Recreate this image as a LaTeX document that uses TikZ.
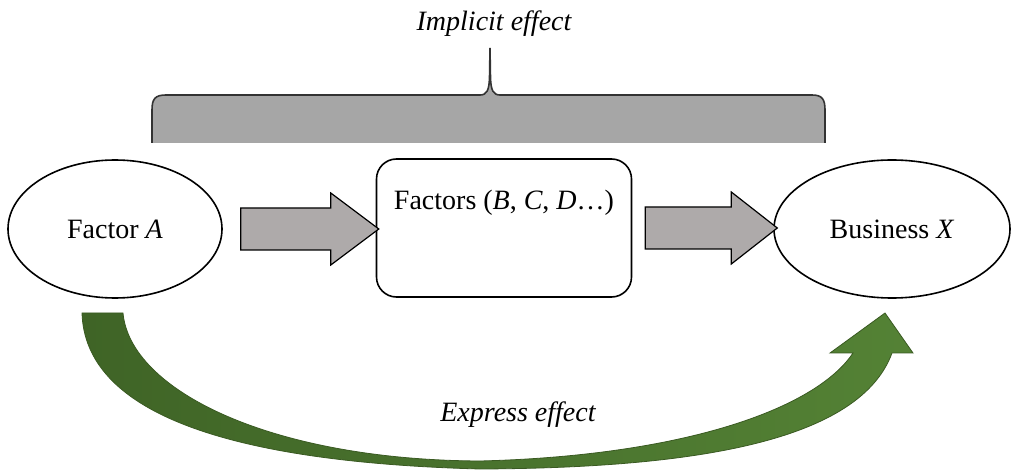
\documentclass[tikz,border=0pt]{standalone}
\usepackage{fontspec}
\setmainfont{Liberation Serif}
\usetikzlibrary{shapes.geometric,calc}
\definecolor{brgray}{HTML}{A6A6A6}
\definecolor{brline}{HTML}{333333}
\definecolor{arrgray}{HTML}{AEAAAA}
\definecolor{gdark}{HTML}{3F6426}
\definecolor{glight}{HTML}{548235}
\definecolor{gline}{HTML}{3A5A22}
\tikzset{
  lbl/.style={font=\fontsize{28}{33}\selectfont, inner sep=0pt},
  oval/.style={ellipse, draw=black, line width=1.6pt, minimum width=214pt, minimum height=138pt, inner sep=0pt, font=\fontsize{28}{33}\selectfont},
  rbox/.style={rectangle, rounded corners=20pt, draw=black, line width=1.6pt, minimum width=255pt, minimum height=138pt},
  blockarrow/.style={draw=black, line width=1.2pt, fill=arrgray, line join=miter},
}
\begin{document}
\begin{tikzpicture}[x=1pt,y=-1pt]
\useasboundingbox (0,0) rectangle (1015,470);
% brace
\fill[brgray] (152,143) -- (152,110) .. controls (152,99) and (155,95) .. (166,95)
  -- (480,95) .. controls (487,95) and (489,90) .. (489.5,78) -- (490,48) -- (490.5,78)
  .. controls (491,90) and (493,95) .. (500,95) -- (812,95)
  .. controls (822,95) and (825,99) .. (825,110) -- (825,143) -- cycle;
\draw[brline, line width=1.6pt] (152,143) -- (152,110) .. controls (152,99) and (155,95) .. (166,95)
  -- (480,95) .. controls (487,95) and (489,90) .. (489.5,78) -- (490,48) -- (490.5,78)
  .. controls (491,90) and (493,95) .. (500,95) -- (812,95)
  .. controls (822,95) and (825,99) .. (825,110) -- (825,143);
\node[lbl, font=\fontsize{28}{33}\selectfont\itshape] (impl) at (494,24) {Implicit effect};
% nodes
\node[oval] (A) at (115,229) {Factor \textit{A}};
\node[rbox] (F) at (504,228) {};
\node[lbl] (Ftxt) at (504,203) {Factors (\textit{B}, \textit{C}, \textit{D}\ldots)};
\node[oval, minimum width=236pt] (X) at (892,229) {Business \textit{X}};
% gray block arrows
\coordinate (g1) at ($(A.east)+(18,0)$);
\draw[blockarrow] (g1) ++(0,-21) -- ++(90,0) -- ++(0,-15) -- ++(48,36) -- ++(-48,36) -- ++(0,-15) -- ++(-90,0) -- cycle;
\coordinate (g2) at ($(F.east)+(13,0)$);
\draw[blockarrow] (g2) ++(0,-21) -- ++(86,0) -- ++(0,-15) -- ++(46,36) -- ++(-46,36) -- ++(0,-15) -- ++(-86,0) -- cycle;
% green curved arrow
\shade[left color=gdark, right color=glight, draw=gline, line width=0.8pt]
  (82,313) .. controls (85,410) and (220,462) .. (480,469)
  .. controls (700,468) and (860,440) .. (892,353)
  -- (913,353) -- (885,313) -- (830,353) -- (853,353)
  .. controls (815,410) and (680,456) .. (480,461)
  .. controls (270,460) and (130,390) .. (123,313) -- cycle;
\node[lbl, font=\fontsize{28}{33}\selectfont\itshape] (expr) at (518,415) {Express effect};
\end{tikzpicture}
\end{document}
